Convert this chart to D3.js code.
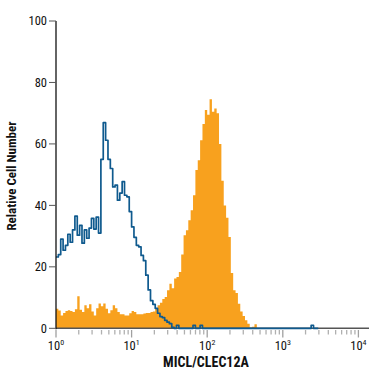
<!DOCTYPE html>
<html>
<head>
<meta charset="utf-8">
<script src="https://cdn.jsdelivr.net/npm/d3@7"></script>
<style>
  body { margin: 0; background: #fff; }
  svg text { font-family: "Liberation Sans Narrow", "Roboto Condensed", sans-serif; }
</style>
</head>
<body>
<div id="chart"></div>
<script>
// histogram channels: 32 bins per decade, starting at 10^0
var binsPerDecade = 32;

// MICL/CLEC12A stained cells (filled)
var stainedCounts = [
    6.4, 5.8, 4.2, 5.0, 5.6, 5.9, 5.6, 5.3, 6.2, 10.4,
    6.0, 5.3, 7.5, 6.5, 7.8, 5.5, 4.2, 6.5, 8.1, 7.2,
    8.1, 6.4, 4.9, 5.9, 7.5, 6.5, 5.3, 4.6, 4.6, 4.2,
    4.2, 4.9, 5.6, 5.3, 4.6, 4.6, 4.6, 4.8, 5.0, 5.0,
    5.3, 5.5, 6.5, 7.5, 8.3, 9.5, 10.2, 12.4, 14.5, 13.0,
    16.2, 16.7, 18.3, 24.0, 30.3, 31.9, 35.2, 38.4, 43.3, 51.5,
    54.7, 61.2, 66.5, 71.0, 69.5, 74.5, 70.5, 71.5, 70.0, 60.0,
    48.0, 40.0, 36.0, 29.7, 18.0, 12.4, 11.5, 8.0, 5.5, 4.0,
    2.6, 1.5, 0.3, 0.5, 1.3, 0
];

// isotype control (outline)
var isotypeCounts = [
    23.2, 24.0, 29.0, 25.4, 27.0, 30.6, 28.0, 32.0, 36.5, 30.3,
    33.5, 27.7, 32.0, 29.3, 32.6, 35.8, 32.3, 36.2, 31.0, 55.0,
    66.9, 61.2, 55.0, 52.0, 46.0, 46.6, 41.7, 44.0, 47.7, 43.3,
    42.8, 38.0, 33.0, 29.6, 27.0, 26.5, 23.7, 22.0, 17.3, 12.5,
    9.0, 7.8, 6.5, 4.9, 3.8, 3.5, 2.6, 2.0, 1.5, 0.3,
    0, 1, 0, 0, 0, 0, 0, 0, 1, 0,
    0, 1, 0, 0, 0, 0, 0, 0, 0, 0,
    0, 0, 0, 0, 0, 0, 0, 0, 0, 0,
    0, 0, 0, 0, 0, 0, 0, 0, 0, 0,
    0, 0, 0, 0, 0, 0, 0, 0, 0, 0,
    0, 0, 0, 0, 0, 0, 0, 0, 1, 0,
    0
];

var yTicks = [0, 20, 40, 60, 80, 100];
var xDecades = [1, 10, 100, 1000, 10000];
var xTitle = "MICL/CLEC12A";
var yTitle = "Relative Cell Number";

function makePlot() {
    var svgWidth = 375;
    var svgHeight = 375;

    var svg = d3.select("#chart")
        .append("svg")
        .attr("width", svgWidth)
        .attr("height", svgHeight);

    var xScale = d3.scaleLog()
        .domain([1, 10000])
        .range([56, 358.4]);

    var yScale = d3.scaleLinear()
        .domain([0, 100])
        .range([328.3, 21]);

    // turn counts into step points (bin start edges)
    function toSteps(counts) {
        var pts = counts.map(function(c, i) {
            return { x: Math.pow(10, i / binsPerDecade), y: c };
        });
        pts.push({ x: Math.pow(10, counts.length / binsPerDecade), y: counts[counts.length - 1] });
        return pts;
    }

    var stained = toSteps(stainedCounts);
    var isotype = toSteps(isotypeCounts);

    // orange filled histogram
    var area = d3.area()
        .x(d => xScale(d.x))
        .y0(yScale(0))
        .y1(d => yScale(d.y))
        .curve(d3.curveStepAfter);

    svg.append("path")
        .datum(stained)
        .attr("d", area)
        .attr("fill", "#f8a11e");

    // x axis line
    svg.append("line")
        .attr("x1", 56)
        .attr("x2", 369)
        .attr("y1", yScale(0))
        .attr("y2", yScale(0))
        .attr("stroke", "#555")
        .attr("stroke-width", 1.5);

    // minor + major ticks
    var minorTicks = [];
    xDecades.slice(0, -1).forEach(function(d) {
        for (var k = 2; k <= 9; k++) minorTicks.push(d * k);
    });

    svg.append("g")
        .selectAll("line")
        .data(minorTicks)
        .enter()
        .append("line")
        .attr("x1", d => xScale(d))
        .attr("x2", d => xScale(d))
        .attr("y1", 330)
        .attr("y2", 334.5)
        .attr("stroke", "#b0b0b0")
        .attr("stroke-width", 1.3);

    svg.append("g")
        .selectAll("line")
        .data(xDecades)
        .enter()
        .append("line")
        .attr("x1", d => xScale(d))
        .attr("x2", d => xScale(d))
        .attr("y1", 330)
        .attr("y2", 337.5)
        .attr("stroke", "#a0a0a0")
        .attr("stroke-width", 1.3);

    // blue outline histogram
    var line = d3.line()
        .x(d => xScale(d.x))
        .y(d => yScale(d.y))
        .curve(d3.curveStepAfter);

    svg.append("path")
        .datum(isotype)
        .attr("d", line)
        .attr("fill", "none")
        .attr("stroke", "#0f5a8e")
        .attr("stroke-width", 1.7)
        .attr("stroke-linejoin", "round");

    // y axis
    svg.append("line")
        .attr("x1", 56)
        .attr("x2", 56)
        .attr("y1", yScale(100))
        .attr("y2", yScale(0) + 1)
        .attr("stroke", "#111")
        .attr("stroke-width", 1.3);

    var yAxis = svg.append("g");
    yAxis.selectAll("line")
        .data(yTicks)
        .enter()
        .append("line")
        .attr("x1", 49)
        .attr("x2", 56)
        .attr("y1", d => yScale(d))
        .attr("y2", d => yScale(d))
        .attr("stroke", "#555")
        .attr("stroke-width", 1);

    yAxis.selectAll("text")
        .data(yTicks)
        .enter()
        .append("text")
        .attr("x", 47)
        .attr("y", d => yScale(d))
        .attr("dy", "0.35em")
        .attr("text-anchor", "end")
        .attr("font-size", 12.5)
        .attr("fill", "#111")
        .text(d => d);

    // x tick labels 10^n
    var xLabels = svg.append("g")
        .selectAll("text")
        .data(xDecades)
        .enter()
        .append("text")
        .attr("x", d => xScale(d))
        .attr("y", 350)
        .attr("text-anchor", "middle")
        .attr("font-size", 12.5)
        .attr("fill", "#111");

    xLabels.append("tspan").text("10");
    xLabels.append("tspan")
        .attr("dy", -5)
        .attr("font-size", 8)
        .text(d => Math.round(Math.log10(d)));

    // axis titles
    svg.append("text")
        .attr("x", 206)
        .attr("y", 367)
        .attr("text-anchor", "middle")
        .attr("font-size", 14)
        .attr("font-weight", "bold")
        .attr("fill", "#111")
        .text(xTitle);

    svg.append("text")
        .attr("transform", "translate(16, 176) rotate(-90)")
        .attr("text-anchor", "middle")
        .attr("font-size", 13)
        .attr("font-weight", "bold")
        .attr("fill", "#111")
        .text(yTitle);
}

makePlot();
</script>
</body>
</html>
